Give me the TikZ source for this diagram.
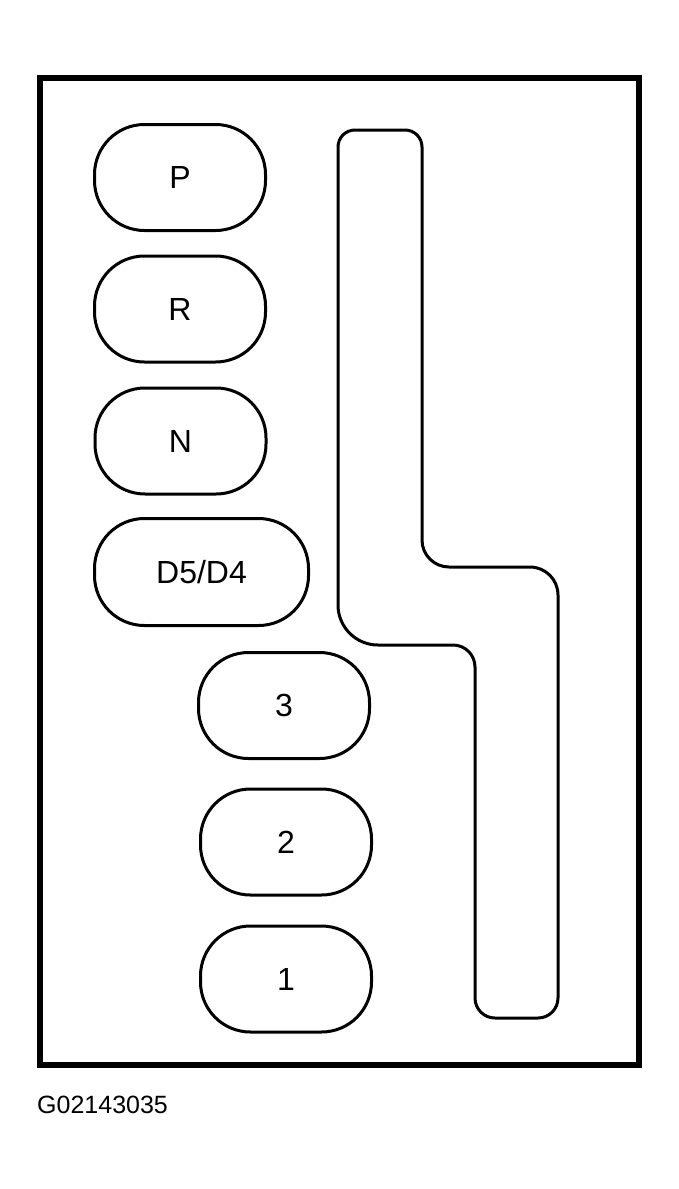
\documentclass[tikz,border=0pt]{standalone}
\usepackage{fontspec}
\setmainfont{Liberation Sans}
\begin{document}
\begin{tikzpicture}[x=1pt,y=-1pt,
  capsule/.style={draw, line width=3pt, rounded corners=50pt, inner sep=0pt,
    minimum width=171pt, minimum height=106pt, font=\fontsize{32}{32}\selectfont},
  gateline/.style={line width=3pt, line join=round},
  framebox/.style={line width=6pt},
  caption/.style={anchor=base west, inner sep=0pt, font=\fontsize{25}{25}\selectfont}]
\useasboundingbox (0,0) rectangle (679,1189);
\fill[white] (0,0) rectangle (679,1189);
% outer frame
\draw[framebox] (40,78) rectangle (639,1065);
% shift positions
\node[capsule] (p) at (180,177.5) {P};
\node[capsule] (r) at (180,309) {R};
\node[capsule] (n) at (180.5,441) {N};
\node[capsule, minimum width=214pt, minimum height=107pt] (d) at (201.5,572) {D5/D4};
\node[capsule] (g3) at (284,705.5) {3};
\node[capsule] (g2) at (286,842) {2};
\node[capsule] (g1) at (286,979) {1};
% shift gate
\draw[gateline] (338,147)
  arc[start angle=180, end angle=270, radius=17]
  -- (405,130)
  arc[start angle=270, end angle=360, radius=17]
  -- (422,540)
  arc[start angle=180, end angle=90, radius=27]
  -- (530,567)
  arc[start angle=270, end angle=360, radius=28]
  -- (558,998)
  arc[start angle=0, end angle=90, radius=20]
  -- (495,1018)
  arc[start angle=90, end angle=180, radius=20]
  -- (475,667)
  arc[start angle=0, end angle=-90, radius=22]
  -- (378,645)
  arc[start angle=90, end angle=180, radius=40]
  -- cycle;
% caption
\node[caption] (cap) at (37,1113) {G02143035};
\end{tikzpicture}
\end{document}
